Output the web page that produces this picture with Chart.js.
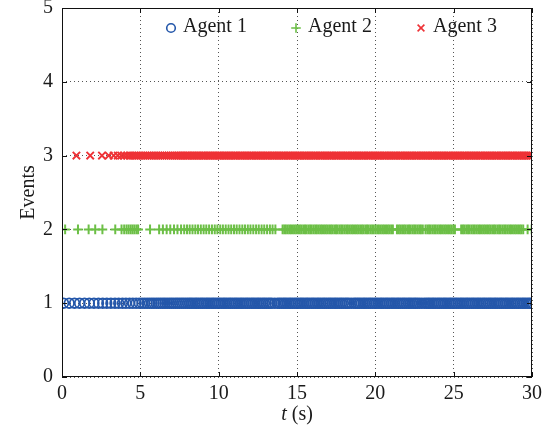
<!DOCTYPE html>
<html>
<head>
<meta charset="utf-8">
<script src="https://cdn.jsdelivr.net/npm/chart.js@4/dist/chart.umd.min.js"></script>
<style>
  html, body { margin: 0; padding: 0; background: #fff; }
  canvas { display: block; }
</style>
</head>
<body>
<canvas id="c" width="549" height="432"></canvas>
<script>
// Event instants (s) of the three agents
const agentNames = ['Agent 1', 'Agent 2', 'Agent 3'];
const eventLevels = [1, 2, 3];

const agent1Times = [
  0.10, 0.46, 0.80, 1.12, 1.44, 1.74, 2.04, 2.33, 2.60, 2.86, 3.12, 3.38, 3.62, 3.86,
  4.08, 4.31, 4.52, 4.73, 4.93, 5.11, 5.27, 5.43, 5.58, 5.73, 5.87, 6.02, 6.16, 6.30,
  6.44, 6.57, 6.71, 6.85, 6.98, 7.11, 7.25, 7.37, 7.50, 7.63, 7.75, 7.88, 8.01,
  8.13, 8.24, 8.36, 8.49, 8.60, 8.72, 8.85, 8.96, 9.08, 9.21, 9.32, 9.44, 9.57, 9.68,
  9.80, 9.93, 10.04, 10.16, 10.29, 10.40, 10.52, 10.65, 10.76, 10.88, 11.01, 11.12,
  11.24, 11.37, 11.48, 11.60, 11.73, 11.84, 11.96, 12.09, 12.20, 12.32, 12.45, 12.56,
  12.68, 12.81, 12.92, 13.04, 13.17, 13.28, 13.40, 13.58, 13.76, 13.88, 14.00, 14.13,
  14.24, 14.36, 14.49, 14.60, 14.72, 14.85, 14.96, 15.08, 15.21, 15.32, 15.44, 15.57,
  15.68, 15.80, 15.93, 16.04, 16.16, 16.29, 16.40, 16.52, 16.65, 16.76, 16.88, 17.01,
  17.12, 17.24, 17.37, 17.48, 17.60, 17.73, 17.84, 17.96, 18.09, 18.20, 18.32, 18.47,
  18.63, 18.74, 18.86, 18.97, 19.09, 19.22, 19.33, 19.45, 19.58, 19.69, 19.81, 19.94,
  20.05, 20.17, 20.30, 20.41, 20.53, 20.66, 20.77, 20.89, 21.02, 21.13, 21.25, 21.38,
  21.49, 21.61, 21.74, 21.85, 21.97, 22.10, 22.21, 22.33, 22.46, 22.57, 22.69, 22.82,
  22.97, 23.13, 23.26, 23.38, 23.49, 23.62, 23.73, 23.85, 23.98, 24.09, 24.21, 24.34,
  24.45, 24.57, 24.70, 24.81, 24.93, 25.06, 25.17, 25.29, 25.42, 25.53, 25.65, 25.78,
  25.89, 26.01, 26.14, 26.25, 26.37, 26.50, 26.61, 26.73, 26.86, 26.97, 27.09, 27.22,
  27.33, 27.45, 27.58, 27.69, 27.81, 27.94, 28.05, 28.17, 28.30, 28.41, 28.53, 28.66,
  28.77, 28.89, 29.02, 29.13, 29.25, 29.38, 29.49, 29.61, 29.74, 29.85, 29.97
];

const agent2Times = [
  0.20, 1.02, 1.70, 2.12, 2.58, 3.40, 3.80, 3.97, 4.12, 4.25, 4.38, 4.50, 4.62, 4.75,
  4.86, 5.62, 6.20, 6.44, 6.68, 6.91, 7.15, 7.37, 7.60, 7.80, 7.98, 8.15, 8.33, 8.51,
  8.68, 8.86, 9.04, 9.21, 9.39, 9.57, 9.75, 9.92, 10.10, 10.27, 10.45, 10.63, 10.80,
  10.98, 11.15, 11.33, 11.51, 11.68, 11.86, 12.03, 12.21, 12.39, 12.56, 12.74, 12.91,
  13.09, 13.27, 13.44, 13.62, 14.08, 14.19, 14.29, 14.41, 14.52, 14.62, 14.74, 14.85,
  14.95, 15.07, 15.18, 15.28, 15.40, 15.51, 15.61, 15.73, 15.84, 15.94, 16.06, 16.17,
  16.27, 16.39, 16.50, 16.60, 16.72, 16.83, 16.93, 17.05, 17.16, 17.26, 17.38, 17.49,
  17.59, 17.71, 17.82, 17.92, 18.04, 18.15, 18.25, 18.37, 18.48, 18.58, 18.70, 18.81,
  18.91, 19.03, 19.14, 19.24, 19.36, 19.47, 19.57, 19.69, 19.80, 19.90, 20.02, 20.13,
  20.23, 20.35, 20.46, 20.56, 20.68, 20.79, 20.89, 21.01, 21.12, 21.38, 21.49, 21.59,
  21.71, 21.82, 21.92, 22.04, 22.15, 22.25, 22.37, 22.48, 22.58, 22.70, 22.81, 22.91,
  23.03, 23.20, 23.32, 23.43, 23.53, 23.65, 23.76, 23.86, 23.98, 24.09, 24.19, 24.31,
  24.42, 24.52, 24.64, 24.75, 24.85, 24.97, 25.08, 25.48, 25.59, 25.69, 25.81, 25.92,
  26.02, 26.14, 26.25, 26.35, 26.47, 26.58, 26.68, 26.80, 26.91, 27.01, 27.13, 27.24,
  27.34, 27.46, 27.57, 27.67, 27.79, 27.90, 28.00, 28.12, 28.23, 28.33, 28.45, 28.56,
  28.66, 28.78, 28.89, 28.99, 29.11, 29.22, 29.32, 29.44, 29.72, 29.98
];

const agent3Times = [
  0.92, 1.80, 2.55, 2.98, 3.30, 3.56, 3.78, 3.98, 4.16, 4.32, 4.47, 4.62, 4.76, 4.90,
  5.04, 5.18, 5.32, 5.46, 5.60, 5.73, 5.87, 6.00, 6.14, 6.27, 6.41, 6.54, 6.68, 6.81,
  6.95, 7.08, 7.21, 7.33, 7.44, 7.56, 7.67, 7.78, 7.90, 8.01, 8.12, 8.24, 8.35, 8.46,
  8.58, 8.69, 8.80, 8.92, 9.03, 9.14, 9.26, 9.37, 9.48, 9.60, 9.71, 9.82, 9.94, 10.05,
  10.16, 10.28, 10.39, 10.50, 10.62, 10.73, 10.84, 10.96, 11.07, 11.18, 11.30, 11.41,
  11.52, 11.64, 11.75, 11.86, 11.98, 12.09, 12.20, 12.32, 12.43, 12.54, 12.66, 12.77,
  12.88, 13.00, 13.11, 13.22, 13.34, 13.45, 13.56, 13.68, 13.79, 13.90, 14.02, 14.13,
  14.24, 14.36, 14.47, 14.58, 14.70, 14.81, 14.92, 15.04, 15.15, 15.26, 15.38, 15.49,
  15.60, 15.72, 15.83, 15.94, 16.06, 16.17, 16.28, 16.40, 16.51, 16.62, 16.74, 16.85,
  16.96, 17.08, 17.19, 17.30, 17.42, 17.53, 17.64, 17.76, 17.87, 17.98, 18.10, 18.21,
  18.32, 18.44, 18.55, 18.66, 18.78, 18.89, 19.00, 19.12, 19.23, 19.34, 19.46, 19.57,
  19.68, 19.80, 19.91, 20.02, 20.14, 20.25, 20.36, 20.48, 20.59, 20.70, 20.82, 20.93,
  21.04, 21.16, 21.27, 21.38, 21.50, 21.61, 21.72, 21.84, 21.95, 22.06, 22.18, 22.29,
  22.40, 22.52, 22.63, 22.74, 22.86, 22.97, 23.08, 23.20, 23.31, 23.42, 23.54, 23.65,
  23.76, 23.88, 23.99, 24.10, 24.22, 24.33, 24.44, 24.56, 24.67, 24.78, 24.90, 25.01,
  25.12, 25.24, 25.35, 25.46, 25.58, 25.69, 25.80, 25.92, 26.03, 26.14, 26.26, 26.37,
  26.48, 26.60, 26.71, 26.82, 26.94, 27.05, 27.16, 27.28, 27.39, 27.50, 27.62, 27.73,
  27.84, 27.96, 28.07, 28.18, 28.30, 28.41, 28.52, 28.64, 28.75, 28.86, 28.98, 29.09,
  29.20, 29.32, 29.43, 29.54, 29.66, 29.77, 29.88, 30.00
];

const xTicks = [0, 5, 10, 15, 20, 25, 30];
const yTicks = [0, 1, 2, 3, 4, 5];

const agentColors = ['#2457aa', '#6cbf46', '#ee3236'];
const agentStyles = ['circle', 'cross', 'crossRot'];
const agentRadius = [4.8, 4.8, 5.2];
const agentLineWidth = [1.8, 2.0, 1.9];

const serif = '"Liberation Serif", "Times New Roman", serif';
const textColor = '#1a1a1a';

const allTimes = [agent1Times, agent2Times, agent3Times];
const datasets = allTimes.map((times, i) => ({
  label: agentNames[i],
  data: times.map(t => ({ x: t, y: eventLevels[i] })),
  showLine: false,
  pointStyle: agentStyles[i],
  pointRadius: agentRadius[i],
  pointBorderWidth: agentLineWidth[i],
  borderColor: agentColors[i],
  backgroundColor: 'rgba(0,0,0,0)',
  pointHoverRadius: agentRadius[i]
}));

// Box frame, inward ticks, axis titles and legend
const decorations = {
  id: 'decorations',
  afterDraw(chart) {
    const { ctx, chartArea: a, scales } = chart;
    const xs = scales.x, ys = scales.y;
    ctx.save();
    ctx.strokeStyle = '#111';
    ctx.lineWidth = 1;
    ctx.strokeRect(Math.round(a.left) + 0.5, Math.round(a.top) + 0.5,
                   Math.round(a.right - a.left) - 1, Math.round(a.bottom - a.top) - 1);
    const tl = 5;
    ctx.beginPath();
    xTicks.forEach(v => {
      const px = Math.round(xs.getPixelForValue(v)) + 0.5;
      ctx.moveTo(px, a.bottom); ctx.lineTo(px, a.bottom - tl);
      ctx.moveTo(px, a.top); ctx.lineTo(px, a.top + tl);
    });
    yTicks.forEach(v => {
      const py = Math.round(ys.getPixelForValue(v)) + 0.5;
      ctx.moveTo(a.left, py); ctx.lineTo(a.left + tl, py);
      ctx.moveTo(a.right, py); ctx.lineTo(a.right - tl, py);
    });
    ctx.stroke();

    // y title
    ctx.fillStyle = textColor;
    ctx.font = '20px ' + serif;
    ctx.textAlign = 'center';
    ctx.textBaseline = 'middle';
    ctx.save();
    ctx.translate(a.left - 33, (a.top + a.bottom) / 2);
    ctx.rotate(-Math.PI / 2);
    ctx.fillText('Events', 0, 0);
    ctx.restore();

    // x title: italic t followed by (s)
    const cx = (a.left + a.right) / 2;
    const ty = a.bottom + 38;
    ctx.font = 'italic 20px ' + serif;
    const w1 = ctx.measureText('t').width;
    ctx.font = '20px ' + serif;
    const w2 = ctx.measureText(' (s)').width;
    const sx = cx - (w1 + w2) / 2;
    ctx.textAlign = 'left';
    ctx.font = 'italic 20px ' + serif;
    ctx.fillText('t', sx, ty);
    ctx.font = '20px ' + serif;
    ctx.fillText(' (s)', sx + w1, ty);

    // legend
    const ly = a.top + 20;
    const markerX = [a.left + 109, a.left + 234, a.left + 359];
    chart.data.datasets.forEach((ds, i) => {
      const mx = markerX[i];
      ctx.strokeStyle = agentColors[i];
      ctx.lineWidth = 1.6;
      ctx.beginPath();
      if (agentStyles[i] === 'circle') {
        ctx.arc(mx, ly, 4.3, 0, Math.PI * 2);
      } else if (agentStyles[i] === 'cross') {
        ctx.moveTo(mx - 4.8, ly); ctx.lineTo(mx + 4.8, ly);
        ctx.moveTo(mx, ly - 4.8); ctx.lineTo(mx, ly + 4.8);
      } else {
        ctx.moveTo(mx - 3.4, ly - 3.4); ctx.lineTo(mx + 3.4, ly + 3.4);
        ctx.moveTo(mx - 3.4, ly + 3.4); ctx.lineTo(mx + 3.4, ly - 3.4);
      }
      ctx.stroke();
      ctx.fillStyle = textColor;
      ctx.font = '20px ' + serif;
      ctx.textAlign = 'left';
      ctx.textBaseline = 'middle';
      ctx.fillText(ds.label, mx + 12, ly - 1);
    });
    ctx.restore();
  }
};

new Chart(document.getElementById('c'), {
  type: 'scatter',
  data: { datasets },
  options: {
    responsive: false,
    animation: false,
    devicePixelRatio: 1,
    layout: { padding: { top: 8, right: 17, left: 0, bottom: 0 } },
    plugins: { legend: { display: false }, tooltip: { enabled: false } },
    scales: {
      x: {
        type: 'linear', min: 0, max: 30,
        afterBuildTicks(scale) { scale.ticks = xTicks.map(v => ({ value: v })); },
        afterFit(scale) {
          scale.height = 55;
          scale.paddingLeft = 0; scale.paddingRight = 0;
        },
        ticks: { font: { family: serif, size: 20 }, color: textColor, padding: 5, maxRotation: 0 },
        grid: { color: '#555', lineWidth: 1, drawTicks: false },
        border: { display: false, dash: [1, 3] }
      },
      y: {
        type: 'linear', min: 0, max: 5,
        afterBuildTicks(scale) { scale.ticks = yTicks.map(v => ({ value: v })); },
        afterFit(scale) {
          scale.width = 62;
          scale.paddingTop = 0; scale.paddingBottom = 0;
        },
        ticks: { font: { family: serif, size: 20 }, color: textColor, padding: 9 },
        grid: { color: '#555', lineWidth: 1, drawTicks: false },
        border: { display: false, dash: [1, 3] }
      }
    }
  },
  plugins: [decorations]
});
</script>
</body>
</html>
